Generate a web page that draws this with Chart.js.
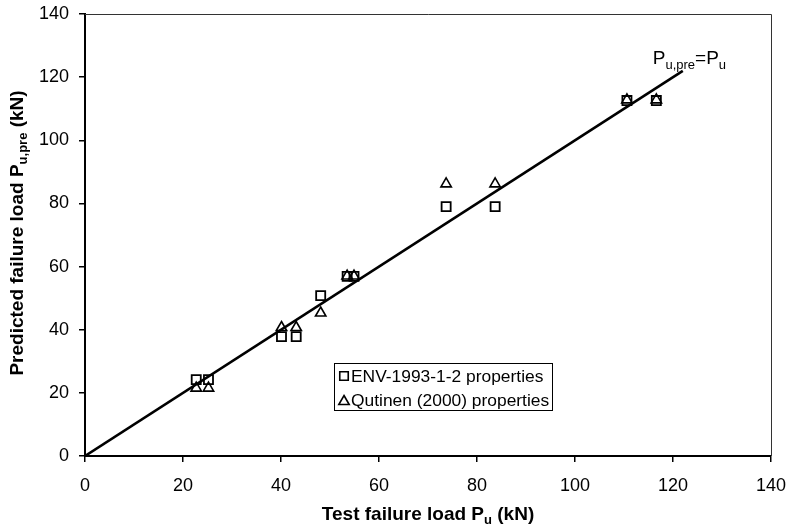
<!DOCTYPE html>
<html><head><meta charset="utf-8">
<script src="https://cdn.jsdelivr.net/npm/chart.js@4/dist/chart.umd.min.js"></script>
<style>html,body{margin:0;padding:0;background:#fff}</style>
</head><body>
<canvas id="c" width="791" height="526"></canvas>
<script>
// ---- data ----
const testLoad = [22.7, 25.2, 40.1, 43.1, 48.1, 53.5, 54.9, 73.7, 83.7, 110.6, 116.6];
const envPredicted = [24.2, 24.2, 37.8, 37.8, 50.8, 56.9, 56.9, 79.0, 79.0, 112.6, 112.6];
const qutPredicted = [21.5, 21.5, 40.7, 40.7, 45.3, 57.0, 57.0, 86.2, 86.2, 112.8, 112.8];
const equalityLine = [0, 122];
const xTickLabels = ['0', '20', '40', '60', '80', '100', '120', '140'];
const yTickLabels = ['0', '20', '40', '60', '80', '100', '120', '140'];
const seriesLabels = ['ENV-1993-1-2 properties', 'Qutinen (2000) properties'];

const FONT = '"Liberation Sans", Arial, Helvetica, sans-serif';

function pts(xs, ys) { return xs.map((x, i) => ({ x: x, y: ys[i] })); }

function richWidth(ctx, parts, size, subSize, weight) {
  let w = 0;
  for (const p of parts) {
    ctx.font = weight + ' ' + (p.sub ? subSize : size) + 'px ' + FONT;
    w += ctx.measureText(p.t).width;
  }
  return w;
}
function drawRich(ctx, parts, x, y, size, subSize, weight, subDrop, align) {
  let w = richWidth(ctx, parts, size, subSize, weight);
  let cx = align === 'center' ? x - w / 2 : x;
  ctx.textBaseline = 'alphabetic';
  ctx.textAlign = 'left';
  for (const p of parts) {
    ctx.font = weight + ' ' + (p.sub ? subSize : size) + 'px ' + FONT;
    ctx.fillText(p.t, cx, p.sub ? y + subDrop : y);
    cx += ctx.measureText(p.t).width;
  }
}

const decorPlugin = {
  id: 'decor',
  afterDraw(chart) {
    const ctx = chart.ctx;
    const a = chart.chartArea;
    const xs = chart.scales.x, ys = chart.scales.y;
    ctx.save();
    // frame top & right
    ctx.strokeStyle = '#333';
    ctx.lineWidth = 1;
    ctx.beginPath();
    ctx.moveTo(a.left, a.top + 0.5); ctx.lineTo(a.right + 0.5, a.top + 0.5); ctx.lineTo(a.right + 0.5, a.bottom);
    ctx.stroke();
    ctx.fillStyle = '#000';
    // line label
    const lx = xs.getPixelForValue(equalityLine[1]) - 30;
    const ly = ys.getPixelForValue(equalityLine[1]) - 7;
    drawRich(ctx, [{t:'P'},{t:'u,pre',sub:true},{t:'=P'},{t:'u',sub:true}], lx, ly, 19, 13, 'normal', 5, 'left');
    // axis titles
    drawRich(ctx, [{t:'Test failure load P'},{t:'u',sub:true},{t:' (kN)'}], (a.left + a.right) / 2, 520, 19, 13, 'bold', 4, 'center');
    ctx.save();
    ctx.translate(23, (a.top + a.bottom) / 2 - 2);
    ctx.rotate(-Math.PI / 2);
    drawRich(ctx, [{t:'Predicted failure load P'},{t:'u,pre',sub:true},{t:' (kN)'}], 0, 0, 19, 13, 'bold', 4, 'center');
    ctx.restore();
    // legend box
    const bx = a.left + 249, by = a.top + 349, bw = 218, bh = 47;
    ctx.fillStyle = '#fff';
    ctx.fillRect(bx, by, bw, bh);
    ctx.strokeStyle = '#000';
    ctx.lineWidth = 1;
    ctx.strokeRect(bx + 0.5, by + 0.5, bw, bh);
    const styles = ['rect', 'triangle'];
    for (let i = 0; i < 2; i++) {
      const cy = by + 13 + i * 24;
      ctx.strokeStyle = '#000';
      ctx.lineWidth = 1.6;
      ctx.fillStyle = 'rgba(0,0,0,0)';
      Chart.helpers.drawPoint(ctx, { pointStyle: styles[i], radius: 6, borderWidth: 1.6, rotation: 0 }, bx + 10, cy + (i ? 1.5 : 0));
      ctx.fillStyle = '#000';
      ctx.font = '17.4px ' + FONT;
      ctx.textBaseline = 'middle';
      ctx.textAlign = 'left';
      ctx.fillText(seriesLabels[i], bx + 17, cy + 1);
    }
    ctx.restore();
  }
};

new Chart(document.getElementById('c'), {
  type: 'scatter',
  data: {
    datasets: [
      { type: 'line', label: 'Pu,pre=Pu', data: pts(equalityLine, equalityLine), borderColor: '#000', borderWidth: 2.6, pointRadius: 0, fill: false, order: 3 },
      { label: seriesLabels[0], data: pts(testLoad, envPredicted), pointStyle: 'rect', pointRadius: 6.4, borderColor: '#000', backgroundColor: 'rgba(0,0,0,0)', pointBorderWidth: 1.8, order: 1 },
      { label: seriesLabels[1], data: pts(testLoad, qutPredicted), pointStyle: 'triangle', pointRadius: 6, borderColor: '#000', backgroundColor: 'rgba(0,0,0,0)', pointBorderWidth: 1.6, order: 2 }
    ]
  },
  options: {
    responsive: false,
    devicePixelRatio: 1,
    animation: false,
    layout: { padding: { top: 14, right: 20, left: 0, bottom: 0 } },
    plugins: { legend: { display: false }, tooltip: { enabled: false } },
    scales: {
      x: {
        type: 'linear', min: 0, max: 140,
        ticks: { stepSize: 20, color: '#000', font: { family: FONT, size: 18 }, padding: 13, maxRotation: 0,
          callback: (v, i) => xTickLabels[i] },
        grid: { drawOnChartArea: false, drawTicks: true, tickLength: 6, color: '#000', lineWidth: 1.5 },
        border: { display: true, color: '#000', width: 2 },
        afterFit: s => { s.height = 70; s.paddingLeft = 0; s.paddingRight = 0; s.paddingTop = 0; s.paddingBottom = 0; }
      },
      y: {
        type: 'linear', min: 0, max: 140,
        ticks: { stepSize: 20, color: '#000', font: { family: FONT, size: 18 }, padding: 10,
          callback: (v, i) => yTickLabels[i] },
        grid: { drawOnChartArea: false, drawTicks: true, tickLength: 6, color: '#000', lineWidth: 1.5 },
        border: { display: true, color: '#000', width: 2 },
        afterFit: s => { s.width = 85; s.paddingLeft = 0; s.paddingRight = 0; s.paddingTop = 0; s.paddingBottom = 0; }
      }
    }
  },
  plugins: [decorPlugin]
});
</script>
</body></html>
